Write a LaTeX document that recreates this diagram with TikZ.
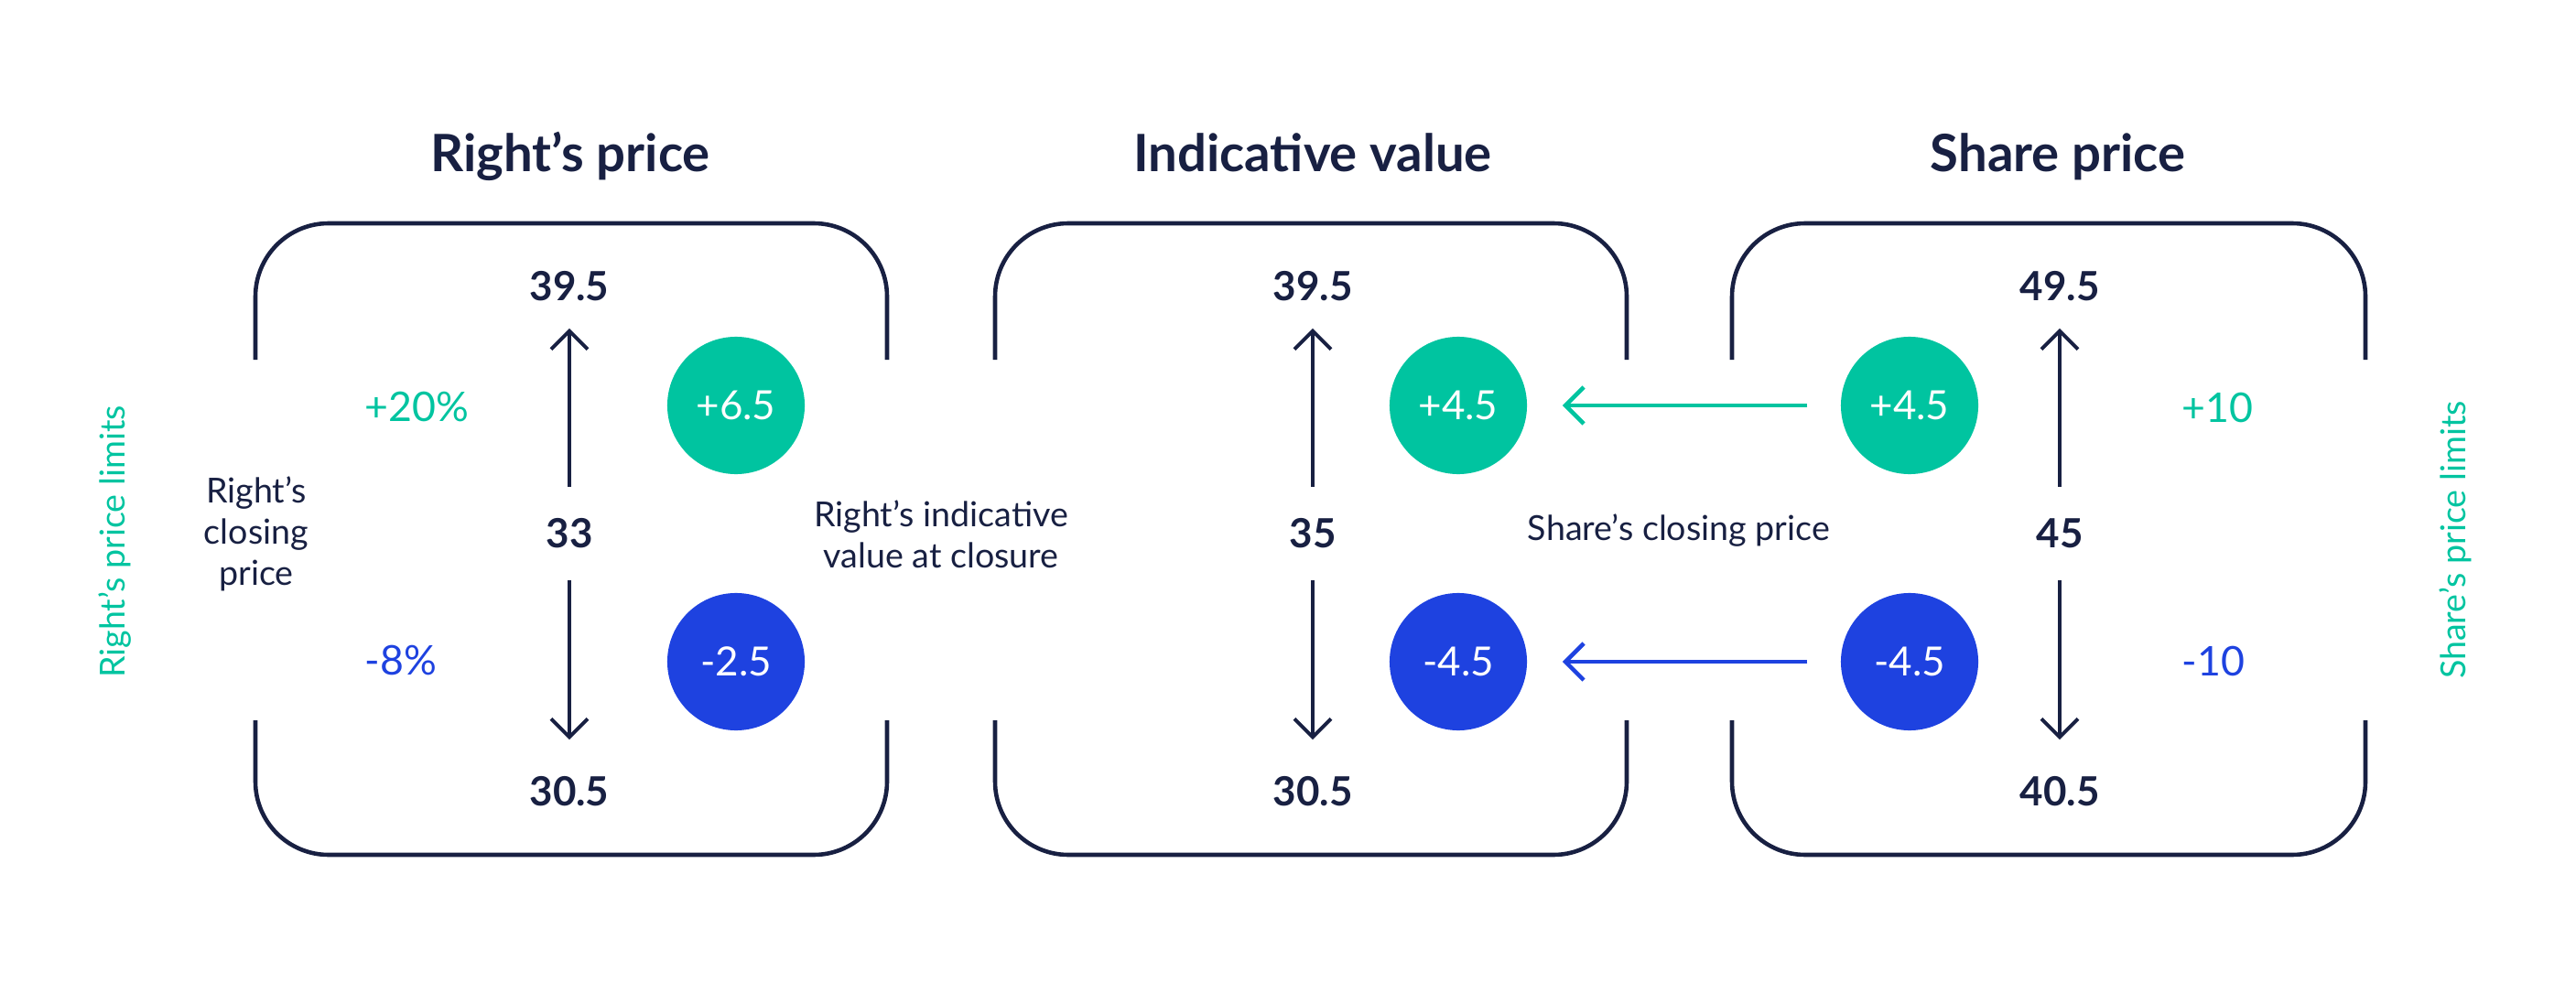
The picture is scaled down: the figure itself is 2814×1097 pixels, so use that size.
\documentclass[tikz,border=0pt]{standalone}
\usepackage{fontspec}
\setmainfont{Lato}
\usetikzlibrary{arrows.meta}
\definecolor{navy}{RGB}{24,32,66}
\definecolor{mint}{RGB}{0,196,160}
\definecolor{royal}{RGB}{30,66,224}
\tikzset{
	boxline/.style={line width=1.3pt, draw=navy, rounded corners=0.8cm},
	heading/.style={font=\fontsize{16}{19}\selectfont\bfseries, text=navy, anchor=base},
	price/.style={font=\fontsize{12.5}{15}\selectfont\bfseries, text=navy, inner sep=0pt},
	note/.style={font=\fontsize{10.7}{12.8}\selectfont, text=navy, align=center, inner sep=0pt},
	limit/.style={font=\fontsize{12.7}{15}\selectfont, anchor=west, inner sep=0pt},
	sidelabel/.style={font=\fontsize{10.7}{12.8}\selectfont, text=mint, rotate=90, inner sep=0pt},
	bubble/.style={circle, minimum size=1.5cm, inner sep=0pt, text=white, font=\fontsize{12.5}{15}\selectfont},
	pricearrow/.style={line width=1.1pt, draw=navy, -{Straight Barb[length=2mm, width=4mm]}},
	passarrow/.style={line width=1.3pt, -{Straight Barb[length=2mm, width=4mm]}}
}
\begin{document}
\begin{tikzpicture}[x=0.01cm, y=-0.01cm]
	\useasboundingbox (0,0) rectangle (2814,1097);

	% the three open boxes
	\foreach \lx/\rx in {279/969, 1087/1777, 1892/2584}{
		\draw[boxline] (\lx,393) -- (\lx,244) -- (\rx,244) -- (\rx,393);
		\draw[boxline] (\lx,787) -- (\lx,934) -- (\rx,934) -- (\rx,787);
	}

	% Right's price
	\node[heading] (headR) at (623,188) {Right’s price};
	\node[price] (hiR) at (622,313) {39.5};
	\node[price] (midR) at (622,583) {33};
	\node[price] (loR) at (622,865) {30.5};
	\draw[pricearrow, shorten <=0.34cm, shorten >=0.29cm] (midR) -- (hiR);
	\draw[pricearrow, shorten <=0.34cm, shorten >=0.40cm] (midR) -- (loR);
	\node[bubble, fill=mint] (upR) at (804,443) {+6.5};
	\node[bubble, fill=royal] (downR) at (804,723) {-2.5};
	\node[limit, text=mint] (plusR) at (398,445) {+20\%};
	\node[limit, text=royal] (minusR) at (398,722) {-8\%};
	\node[note] (closeR) at (280,583) {Right’s\\closing\\price};
	\node[sidelabel] (limitsR) at (126,592) {Right’s price limits};
	\node[note] (valueR) at (1028,584) {Right’s indicative\\value at closure};

	% Indicative value
	\node[heading] (headI) at (1434,188) {Indicative value};
	\node[price] (hiI) at (1434,313) {39.5};
	\node[price] (midI) at (1434,583) {35};
	\node[price] (loI) at (1434,865) {30.5};
	\draw[pricearrow, shorten <=0.34cm, shorten >=0.29cm] (midI) -- (hiI);
	\draw[pricearrow, shorten <=0.34cm, shorten >=0.40cm] (midI) -- (loI);
	\node[bubble, fill=mint] (upI) at (1593,443) {+4.5};
	\node[bubble, fill=royal] (downI) at (1593,723) {-4.5};
	\node[note] (closeS) at (1834,580) {Share’s closing price};

	% Share price
	\node[heading] (headS) at (2248,188) {Share price};
	\node[price] (hiS) at (2250,313) {49.5};
	\node[price] (midS) at (2250,583) {45};
	\node[price] (loS) at (2250,865) {40.5};
	\draw[pricearrow, shorten <=0.34cm, shorten >=0.29cm] (midS) -- (hiS);
	\draw[pricearrow, shorten <=0.34cm, shorten >=0.40cm] (midS) -- (loS);
	\node[bubble, fill=mint] (upS) at (2086,443) {+4.5};
	\node[bubble, fill=royal] (downS) at (2086,723) {-4.5};
	\node[limit, text=mint] (plusS) at (2383,445) {+10};
	\node[limit, text=royal] (minusS) at (2383,722) {-10};
	\node[sidelabel] (limitsS) at (2682,590) {Share’s price limits};

	% share moves passed on to the indicative value
	\draw[passarrow, mint, shorten <=0.36cm, shorten >=0.38cm] (upS) -- (upI);
	\draw[passarrow, royal, shorten <=0.36cm, shorten >=0.38cm] (downS) -- (downI);
\end{tikzpicture}
\end{document}
